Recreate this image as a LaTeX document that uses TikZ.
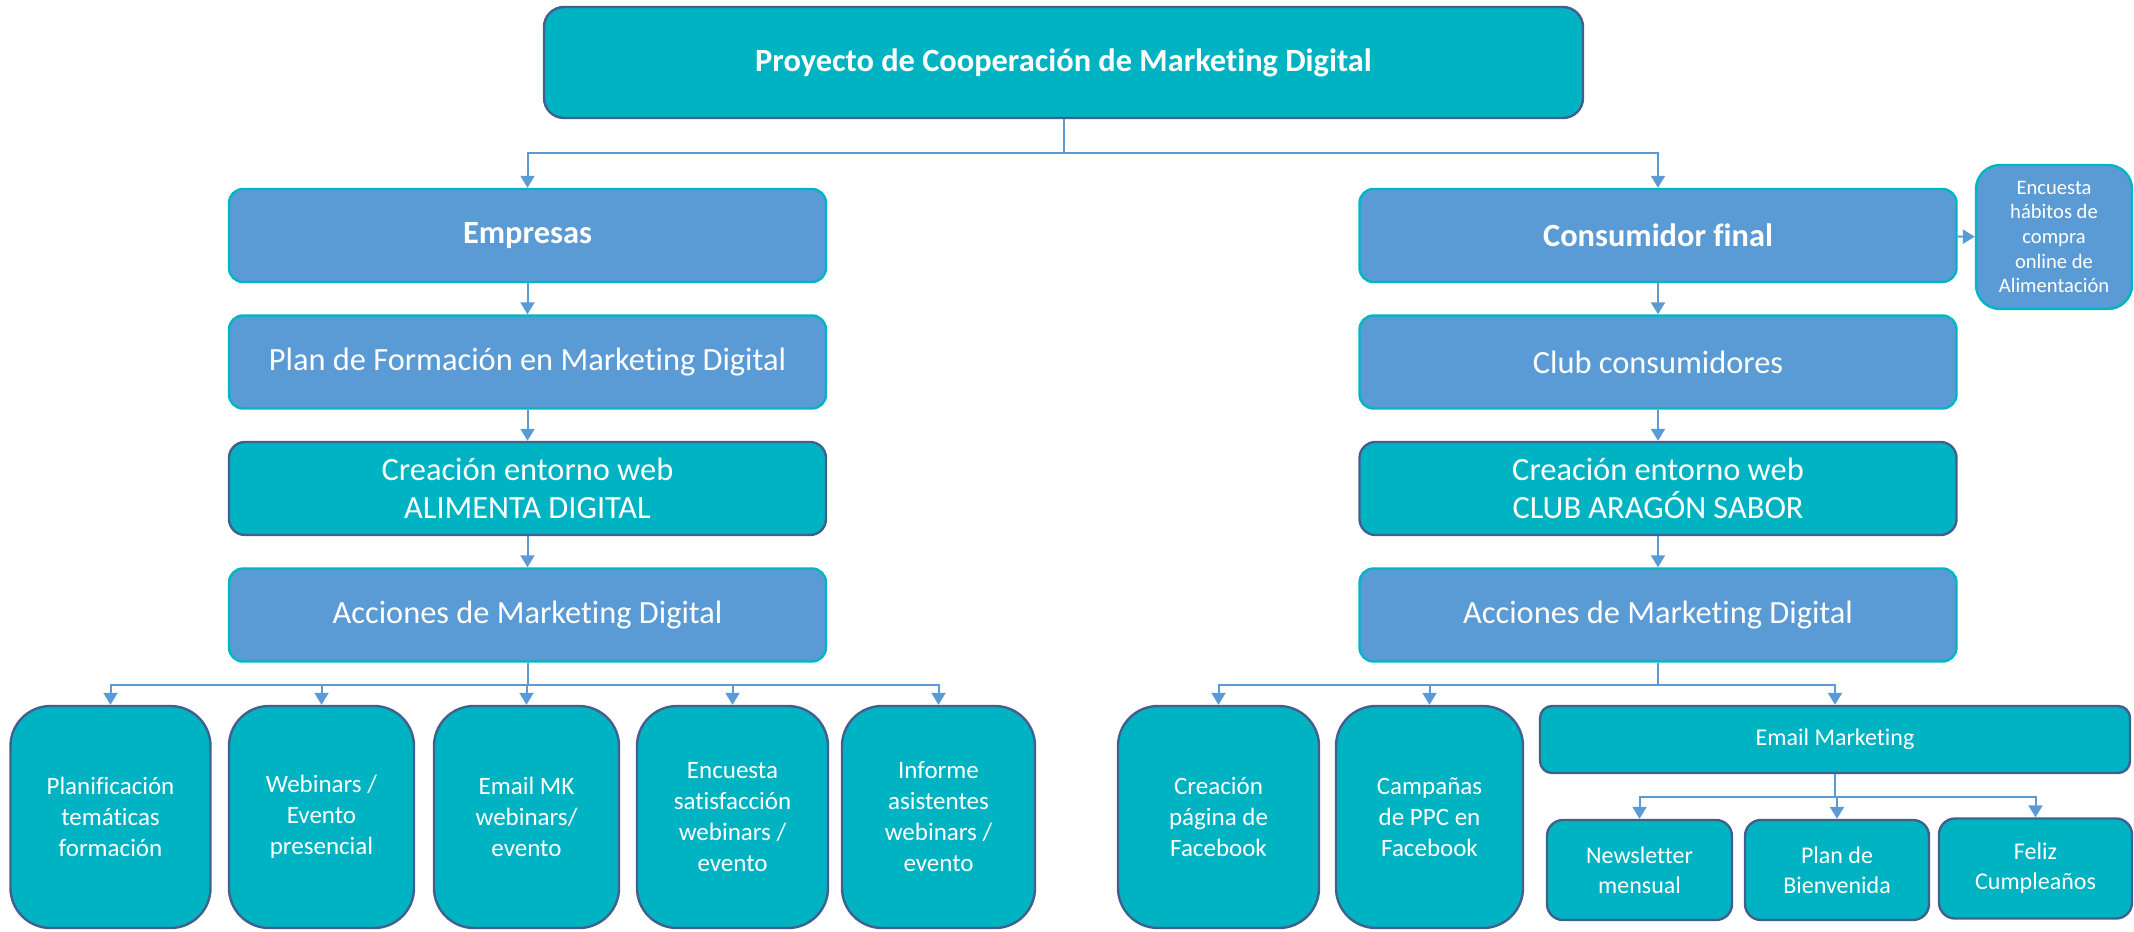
\documentclass[tikz,border=0pt]{standalone}
\usepackage{fontspec}
\setmainfont{Carlito}[Ligatures=NoCommon]
\usetikzlibrary{arrows.meta}
\definecolor{tealfill}{HTML}{00B3C2}
\definecolor{tealedge}{HTML}{42608E}
\definecolor{bluefill}{HTML}{5B9BD5}
\definecolor{blueedge}{HTML}{00B5C4}
\definecolor{linkcol}{HTML}{5B9BD5}

\begin{document}
\begin{tikzpicture}[x=0.5pt,y=-0.5pt]
	\tikzstyle{every node}=[inner sep=0pt, align=center, text=white]
	\tikzstyle{tealbox}=[draw=tealedge, fill=tealfill, line width=1.2pt, rounded corners=8pt]
	\tikzstyle{bluebox}=[draw=blueedge, fill=bluefill, line width=1.2pt, rounded corners=7pt, minimum width=298.5pt, minimum height=46.5pt, font=\fontsize{16.2}{19}\selectfont]
	\tikzstyle{midbox}=[tealbox, minimum width=298.5pt, minimum height=46.5pt, font=\fontsize{16.2}{19}\selectfont]
	\tikzstyle{tallbox}=[tealbox, rounded corners=20pt, minimum height=111pt, font=\fontsize{12.5}{15.5}\selectfont]
	\tikzstyle{subbox}=[tealbox, minimum height=50pt, font=\fontsize{12}{15}\selectfont]
	\tikzstyle{conn}=[draw=linkcol, line width=1pt, -{Triangle[length=6pt,width=7pt]}]
	\useasboundingbox (0,0) rectangle (2134,931);
	% top
	\node (top) [tealbox, rounded corners=10pt, minimum width=519.5pt, minimum height=55.5pt, font=\fontsize{16.2}{19}\selectfont\bfseries] at (1063.5,62.5) {Proyecto de Cooperación de Marketing Digital};
	% left column
	\node (emp) [bluebox, font=\fontsize{16.2}{19}\selectfont\bfseries] at (527.5,235.5) {Empresas};
	\node (plan) [bluebox] at (527.5,362) {Plan de Formación en Marketing Digital};
	\node (webA) [midbox] at (527.5,488.5) {Creación entorno web\\ALIMENTA DIGITAL};
	\node (accA) [bluebox] at (527.5,615) {Acciones de Marketing Digital};
	% right column
	\node (cons) [bluebox, font=\fontsize{16.2}{19}\selectfont\bfseries] at (1658,235.5) {Consumidor final};
	\node (enc) [bluebox, rounded corners=12pt, minimum width=78pt, minimum height=72pt, font=\fontsize{10.3}{12.3}\selectfont] at (2054,237) {Encuesta\\hábitos de\\compra\\online de\\Alimentación};
	\node (club) [bluebox] at (1658,362) {Club consumidores};
	\node (webB) [midbox] at (1658,488.5) {Creación entorno web\\CLUB ARAGÓN SABOR};
	\node (accB) [bluebox] at (1658,615) {Acciones de Marketing Digital};
	% left actions
	\node (a1) [tallbox, minimum width=100pt] at (110.5,817) {Planificación\\temáticas\\formación};
	\node (a2) [tallbox, minimum width=92.5pt] at (321.5,817) {Webinars /\\Evento\\presencial};
	\node (a3) [tallbox, minimum width=92.5pt] at (526.5,817) {Email MK\\webinars/\\evento};
	\node (a4) [tallbox, minimum width=95.5pt] at (732.5,817) {Encuesta\\satisfacción\\webinars /\\evento};
	\node (a5) [tallbox, minimum width=96.5pt] at (938.5,817) {Informe\\asistentes\\webinars /\\evento};
	% right actions
	\node (b1) [tallbox, minimum width=100.5pt] at (1218.5,817) {Creación\\página de\\Facebook};
	\node (b2) [tallbox, minimum width=93.5pt] at (1429.5,817) {Campañas\\de PPC en\\Facebook};
	\node (em) [tealbox, rounded corners=6pt, minimum width=295pt, minimum height=33.5pt, font=\fontsize{12}{15}\selectfont] at (1835,739.5) {Email Marketing};
	\node (n1) [subbox, minimum width=92.5pt] at (1639.5,870) {Newsletter\\mensual};
	\node (n2) [subbox, minimum width=92pt] at (1837,870) {Plan de\\Bienvenida};
	\node (n3) [subbox, minimum width=96.5pt] at (2035.5,868.5) {Feliz\\Cumpleaños};
	% connectors
	\draw[conn] (top.south) -- ++(0,34) -| (emp.north);
	\draw[conn] (top.south) -- ++(0,34) -| (cons.north);
	\draw[conn] (cons) -- (enc);
	\draw[conn] (emp) -- (plan);
	\draw[conn] (plan) -- (webA);
	\draw[conn] (webA) -- (accA);
	\draw[conn] (cons) -- (club);
	\draw[conn] (club) -- (webB);
	\draw[conn] (webB) -- (accB);
	\foreach \n in {a1,a2,a3,a4,a5}
		\draw[conn] (accA.south) -- ++(0,22) -| (\n.north);
	\foreach \n in {b1,b2,em}
		\draw[conn] (accB.south) -- ++(0,22) -| (\n.north);
	\foreach \n in {n1,n2,n3}
		\draw[conn] (em.south) -- ++(0,23) -| (\n.north);
\end{tikzpicture}
\end{document}
